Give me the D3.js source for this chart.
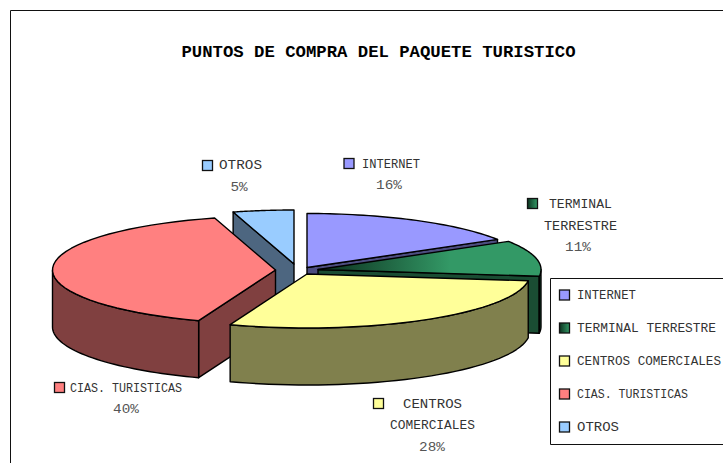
<!DOCTYPE html>
<html><head><meta charset="utf-8">
<script src="https://cdn.jsdelivr.net/npm/d3@7"></script>
<style>html,body{margin:0;padding:0;background:#fff;overflow:hidden}svg{display:block}</style>
</head><body><svg id="c" width="723" height="463"></svg>
<script>
const categories = ["INTERNET","TERMINAL TERRESTRE","CENTROS COMERCIALES","CIAS. TURISTICAS","OTROS"];
const values = [16.3,10.7,28.6,40,4.4];
const percentLabels = ["16%","11%","28%","40%","5%"];
const topColors = ["#9999ff","#339966","#ffff99","#ff8080","#99ccff"];
const sideColors = ["#4d4d80","#1a4d33","#80804d","#804040","#4d6680"];
const title = "PUNTOS DE COMPRA DEL PAQUETE TURISTICO";

const svg = d3.select("#c");
const font = "'Liberation Mono','Courier New',monospace";
const defs = svg.append("defs");

const gradient = (id, x1, x2, units) => {
  const g = defs.append("linearGradient").attr("id", id).attr("x1", x1).attr("x2", x2)
    .attr("y1", 0).attr("y2", 0).attr("gradientUnits", units);
  g.append("stop").attr("offset", 0).attr("stop-color", "#0d3320");
  g.append("stop").attr("offset", 1).attr("stop-color", topColors[1]);
};
gradient("gTop", 325, 450, "userSpaceOnUse");
gradient("gKey", 0, 1, "objectBoundingBox");

// frame
svg.append("path").attr("d", "M10.5 463V10.5H723").attr("fill", "none").attr("stroke", "#111").attr("stroke-width", 1);

svg.append("text").text(title).attr("x", 378.5).attr("y", 56.5).attr("text-anchor", "middle")
  .attr("font-family", font).attr("font-weight", "bold").attr("font-size", 16).attr("fill", "#000")
  .attr("textLength", 394).attr("lengthAdjust", "spacingAndGlyphs");

// pie geometry
const rx = 223, ry = 54, depth = 57;
const apexes = [[307,267.5],[318,269.5],[307,274],[275.5,270],[294,264]];
const arcs = d3.pie().sort(null).value(d => d).startAngle(0).endAngle(2 * Math.PI)(values);
const line = d3.line();
const rim = (i, t, dz = 0) => [apexes[i][0] + rx * Math.sin(t), apexes[i][1] - ry * Math.cos(t) + dz];
const samples = (a, b) => d3.range(0, 41).map(k => a + (b - a) * k / 40);

const pieG = svg.append("g").attr("stroke", "#000").attr("stroke-width", 1.4).attr("stroke-linejoin", "round");
const order = [4, 0, 1, 3, 2];
order.forEach(i => {
  const { startAngle: a, endAngle: b } = arcs[i];
  const apex = apexes[i], low = [apex[0], apex[1] + depth];
  const drawWall = t => {
    const p = rim(i, t), q = rim(i, t, depth);
    pieG.append("path").attr("d", line([apex, p, q, low]) + "Z").attr("fill", sideColors[i]);
  };
  if (Math.sin(a) < -1e-6) drawWall(a);
  if (Math.sin(b) > 1e-6) drawWall(b);
  const s0 = Math.max(a, Math.PI / 2), s1 = Math.min(b, 1.5 * Math.PI);
  if (s1 > s0) {
    const ts = samples(s0, s1);
    const pts = ts.map(t => rim(i, t)).concat(ts.slice().reverse().map(t => rim(i, t, depth)));
    pieG.append("path").attr("d", line(pts) + "Z").attr("fill", sideColors[i]);
  }
  const top = [apex].concat(samples(a, b).map(t => rim(i, t)));
  pieG.append("path").attr("d", line(top) + "Z").attr("fill", i === 1 ? "url(#gTop)" : topColors[i]);
});

const swatch = (x, yc, i, size) => svg.append("rect").attr("x", x + .5).attr("y", yc - size / 2 + .5)
  .attr("width", size).attr("height", size).attr("fill", i === 1 ? "url(#gKey)" : topColors[i])
  .attr("stroke", "#111").attr("stroke-width", 1.3);
const txt = (s, x, y, w, anchor, col, size = 13) => {
  const t = svg.append("text").text(s).attr("x", x).attr("y", y).attr("font-family", font)
    .attr("font-size", size).attr("fill", col).attr("text-anchor", anchor);
  if (w) t.attr("textLength", w).attr("lengthAdjust", "spacingAndGlyphs");
  return t;
};

// data labels: swatch position, name lines, percent centre and baseline
const labelLayout = [
  { sw: [343.5, 163], lines: [[categories[0], 362, 168, 58]], pct: [389, 189] },
  { sw: [527, 203], lines: [["TERMINAL", 549, 208, 63], ["TERRESTRE", 544, 230, 73]], pct: [578, 251] },
  { sw: [373, 403], lines: [["CENTROS", 403, 408, 59], ["COMERCIALES", 390, 429, 85]], pct: [432, 451] },
  { sw: [54, 387], lines: [[categories[3], 70, 392, 112]], pct: [126, 413] },
  { sw: [202, 165], lines: [[categories[4], 219, 169, 43]], pct: [239, 191] }
];
labelLayout.forEach((l, i) => {
  swatch(l.sw[0], l.sw[1], i, 10);
  l.lines.forEach(([s, x, y, w]) => txt(s, x, y, w, "start", "#333"));
  txt(percentLabels[i], l.pct[0], l.pct[1], percentLabels[i].length * 8.6, "middle", "#555");
});

// legend
svg.append("path").attr("d", "M723 278.5H550.5V444.5H723").attr("fill", "#fff").attr("stroke", "#111").attr("stroke-width", 1);
const legendY = d3.scalePoint().domain(categories).range([294.5, 426.5]);
const legendWidths = [59, 139, 144, 111, 42];
categories.forEach((c, i) => {
  swatch(559, legendY(c), i, 10);
  txt(c, 577, legendY(c) + 4.5, legendWidths[i], "start", "#333", 12.4);
});
</script></body></html>
